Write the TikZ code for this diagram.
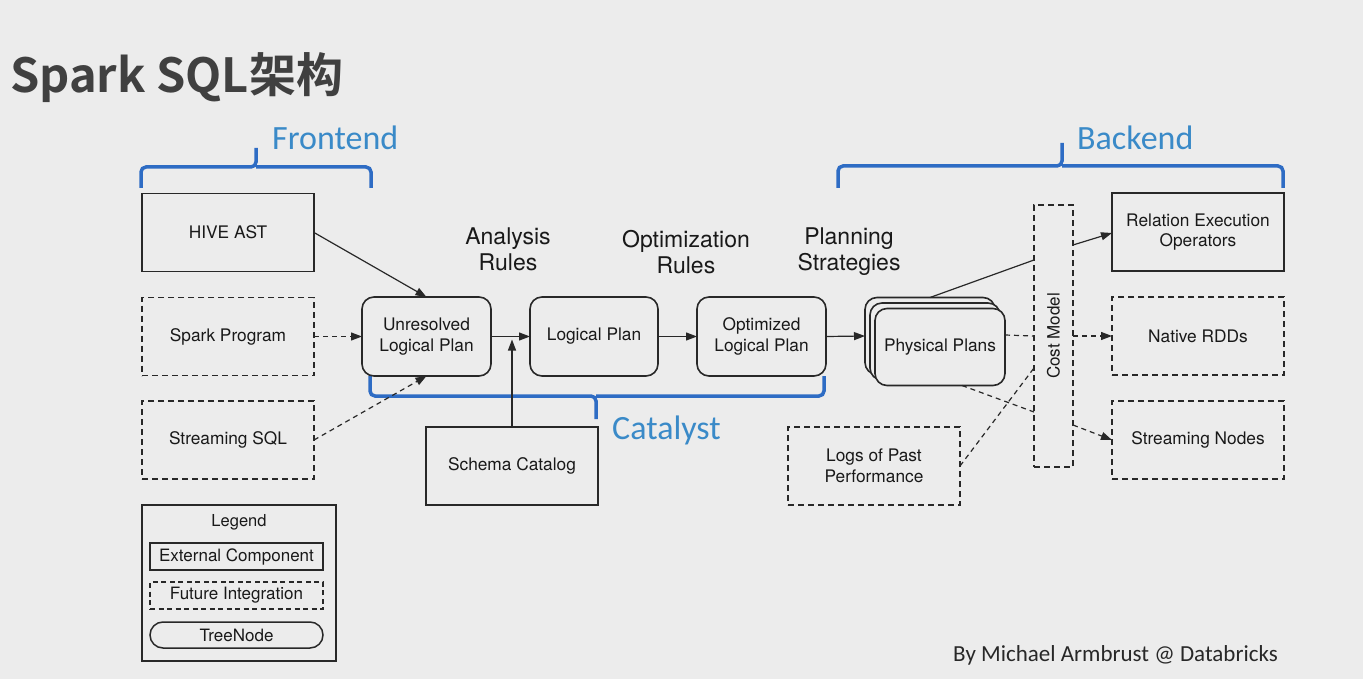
\documentclass[tikz,border=0pt]{standalone}
\usepackage{fontspec}
\setmainfont{TeX Gyre Heros}
\newfontfamily\titlefont{Noto Sans CJK SC Bold}
\newfontfamily\calfont{Carlito}
\usetikzlibrary{arrows.meta,calc}
\definecolor{bg}{RGB}{236,236,236}
\definecolor{ink}{RGB}{40,40,40}
\definecolor{txt}{RGB}{25,25,25}
\definecolor{brace}{RGB}{46,108,196}
\definecolor{lblue}{RGB}{58,138,200}
\definecolor{titlec}{RGB}{64,64,64}
\begin{document}
\begin{tikzpicture}[x=1pt,y=-1pt,
  box/.style={draw=ink,line width=1.6pt,minimum width=172pt,minimum height=78pt,inner sep=2pt,outer sep=0pt,text=txt,font=\fontsize{17.3}{20.5}\selectfont,align=center},
  dbox/.style={box,dash pattern=on 6pt off 4pt},
  tree/.style={box,rounded corners=12pt,minimum width=129pt,minimum height=79pt,fill=bg},
  lbox/.style={draw=ink,line width=1.5pt,minimum width=173pt,minimum height=27pt,inner sep=1pt,outer sep=0pt,text=txt,font=\fontsize{17}{19}\selectfont},
  conn/.style={draw=ink,line width=1.2pt},
  arr/.style={conn,-{Triangle[length=11pt,width=8pt]}},
  darr/.style={arr,dash pattern=on 5pt off 4pt},
  dline/.style={conn,dash pattern=on 5pt off 4pt},
  bracep/.style={draw=brace,line width=3.5pt,rounded corners=5pt},
  blab/.style={text=lblue,font=\calfont\fontsize{34}{38}\selectfont,anchor=base west,inner sep=0pt},
  rules/.style={text=txt,font=\fontsize{23}{26}\selectfont,align=center}
]
\useasboundingbox[fill=bg] (0,0) rectangle (1363,679);

% title
\node[anchor=base west,inner sep=0pt,text=titlec,font=\titlefont\fontsize{47}{50}\selectfont] (title) at (10,93) {Spark SQL架构};

% braces
\draw[bracep] (141,188) -- (141,167) -- (256,167) -- (256,148);
\draw[bracep] (256,167) -- (371,167) -- (371,188);
\node[blab] (front) at (272,150) {Frontend};
\draw[bracep] (838,188) -- (838,166) -- (1062,166) -- (1062,143);
\draw[bracep] (1062,166) -- (1283,166) -- (1283,188);
\node[blab] (back) at (1077,150) {Backend};
\draw[bracep] (370,376) -- (370,396) -- (596,396) -- (596,419);
\draw[bracep] (596,396) -- (824,396) -- (824,376);
\node[blab] (cat) at (612,439) {Catalyst};

% left inputs
\node[box] (hive) at (228,232.5) {HIVE AST};
\node[dbox] (spark) at (228,336.5) {Spark Program};
\node[dbox] (stream) at (228,440) {Streaming SQL};

% legend
\node[draw=ink,line width=1.6pt,minimum width=194pt,minimum height=156pt,outer sep=0pt] (legend) at (239,583) {};
\node[text=txt,font=\fontsize{16.5}{18}\selectfont] (legt) at (239,522) {Legend};
\node[lbox] (ext) at (236.5,556.5) {External Component};
\node[lbox,dash pattern=on 5pt off 3.5pt] (fut) at (236.5,595.5) {Future Integration};
\node[lbox,rounded corners=13pt,minimum height=26pt] (tn) at (236.5,635) {TreeNode};

% tree nodes
\node[tree] (unres) at (426.5,336.5) {Unresolved\\Logical Plan};
\node[tree,minimum width=128pt] (logical) at (594,336.5) {Logical Plan};
\node[tree] (optim) at (761.5,336.5) {Optimized\\Logical Plan};
\node[tree,minimum width=130pt,minimum height=77pt] (phys1) at (930,336) {};
\node[tree,minimum width=130pt,minimum height=77pt] (phys2) at (935,341.5) {};
\node[tree,minimum width=130pt,minimum height=77pt] (phys) at (940,347) {Physical Plans};

\node[box] (schema) at (512,466) {Schema Catalog};
\node[dbox] (logs) at (874,466) {Logs of Past\\Performance};
\node[dbox,minimum width=39pt,minimum height=262pt] (cost) at (1053.5,336) {};
\node[rotate=90,text=txt,font=\fontsize{17}{19}\selectfont] (costt) at (1053.5,336) {Cost Model};

\node[box] (rel) at (1198,232) {Relation Execution\\Operators};
\node[dbox] (native) at (1198,336) {Native RDDs};
\node[dbox] (snodes) at (1198,440) {Streaming Nodes};

% rule labels
\node[rules] (ar) at (508,249) {Analysis\\Rules};
\node[rules] (or) at (686,252) {Optimization\\Rules};
\node[rules] (ps) at (849,252) {Planning\\Strategies};

% connectors
\draw[arr] (hive.east) -- (unres.north);
\draw[darr] (spark.east) -- (unres.west);
\draw[darr] (stream.east) -- (unres.south);
\draw[arr] (unres.east) -- (logical.west);
\coordinate (sj) at (schema.north |- unres.east);
\draw[arr] (schema.north) -- ([yshift=-3pt]sj);
\draw[arr] (logical.east) -- (optim.west);
\draw[arr] (optim.east) -- (phys1.west);

\draw[conn] (phys1.north) -- ([yshift=76pt]cost.west);
\draw[arr] ([yshift=91pt]cost.east) -- ([yshift=-1pt]rel.west);
\draw[dline] ([yshift=12pt]phys.east) -- (cost.west);
\draw[darr] (cost.east) -- (native.west);
\draw[dline] ([xshift=22pt]phys.south) -- ([yshift=-76pt]cost.west);
\draw[darr] ([yshift=-89pt]cost.east) -- (snodes.west);
\draw[dline] (logs.east) -- ([yshift=-32pt]cost.west);

% footer
\node[anchor=base west,inner sep=0pt,text=ink,font=\calfont\fontsize{23}{26}\selectfont] (by) at (953,661) {By Michael Armbrust @ Databricks};
\end{tikzpicture}
\end{document}
